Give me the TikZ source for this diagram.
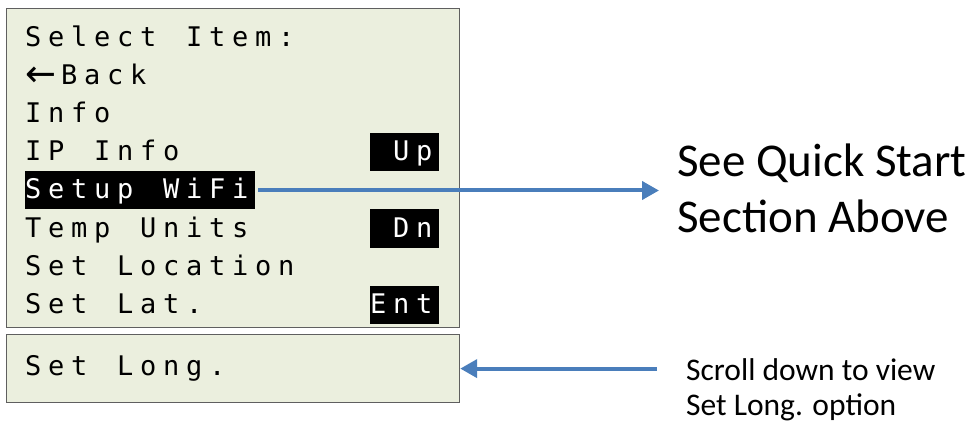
\documentclass[tikz,border=0pt]{standalone}
\usepackage{fontspec}
\setmainfont{Carlito}
\newfontfamily\lcdfamily{DejaVu Sans Mono}[LetterSpace=25]
\newfontfamily\arrowfamily{DejaVu Sans}
\usetikzlibrary{arrows.meta,calc}
\definecolor{lcdbg}{RGB}{235,239,222}
\definecolor{lcdedge}{RGB}{95,95,95}
\definecolor{flowblue}{RGB}{74,126,187}
\newcommand{\lcdfont}{\lcdfamily\fontsize{27}{38}\selectfont\spaceskip=29.75pt\relax}

\begin{document}
\begin{tikzpicture}[
    x=1pt, y=-1pt,
    screen/.style={
        draw=lcdedge, line width=1.2pt, fill=lcdbg,
        anchor=north west, minimum width=453pt,
    },
    row/.style={
        anchor=west, inner xsep=0pt, inner ysep=4.5pt,
        text height=23pt, text depth=6pt, font=\lcdfont,
        execute at end node={\kern6.75pt},
    },
    hilite/.style={row, fill=black, text=white},
    note/.style={anchor=west, inner sep=0pt, align=left},
    flow/.style={
        draw=flowblue, line width=4pt,
        -{Triangle[length=17pt,width=18pt]}
    }
    ]
    \useasboundingbox (0,0) rectangle (978,425);

    % the two display panels
    \node[screen, minimum height=319pt] (menu) at (6,8) {};
    \node[screen, minimum height=68pt] (longbox) at (6,334) {};

    % menu rows
    \node[row] (title) at (25,38.5) {Select Item:};
    \node[row] (back) at (25,76.5)
        {\makebox[36pt][l]{\raisebox{-2pt}{\arrowfamily\fontsize{37}{37}\selectfont ←}}Back};
    \node[row] (info) at (25,114.5) {Info};
    \node[row] (ipinfo) at (25,152.5) {IP Info};
    \node[hilite] (wifi) at (25,190.5) {Setup WiFi};
    \node[row] (temp) at (25,228.5) {Temp Units};
    \node[row] (loc) at (25,266.5) {Set Location};
    \node[row] (lat) at (25,304.5) {Set Lat.};
    \node[row] (long) at (25,366.5) {Set Long.};

    % key labels
    \node[hilite] (up) at (370,152.5) {\kern23pt Up};
    \node[hilite] (dn) at (370,228.5) {\kern23pt Dn};
    \node[hilite] (ent) at (370,304.5) {Ent};

    % notes
    \node[note, font=\fontsize{47}{56}\selectfont] (quick) at (677,188)
        {See Quick Start\\Section Above};
    \node[note, font=\fontsize{31.5}{35}\selectfont] (scroll) at (686,390)
        {Scroll down to view\\Set Long. option};

    \draw[flow, shorten <=3pt, shorten >=18pt] (wifi.east) -- (wifi.east -| quick.west);
    \draw[flow, shorten <=29pt] (longbox.east -| scroll.west) -- (longbox.east);
\end{tikzpicture}
\end{document}
